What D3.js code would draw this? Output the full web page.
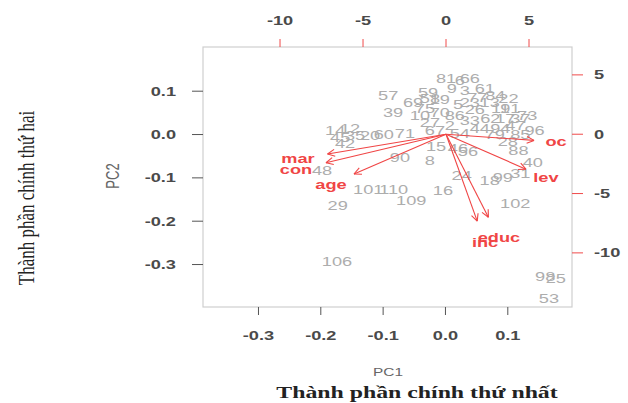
<!DOCTYPE html>
<html>
<head>
<meta charset="utf-8">
<script src="https://cdn.jsdelivr.net/npm/d3@7"></script>
<style>
  html, body { margin: 0; padding: 0; background: #fff; }
  svg { display: block; }
</style>
</head>
<body>
<svg id="chart" width="628" height="403"></svg>
<script>
// ---- data ----
const bottomTicks = [-0.3, -0.2, -0.1, 0.0, 0.1];
const leftTicks = [0.1, 0.0, -0.1, -0.2, -0.3];
const topTicks = [-10, -5, 0, 5];
const rightTicks = [5, 0, -5, -10];

// observation scores (PC1, PC2)
const obsLabels = ["57","39","59","69","81","66","10","70","5","77","84","91","62","33","2","27","94","47","3","61","9","19","26","11","37","44","54","67","75","86","13","17","6","58","22","23","79","85","96","73","71","60","14","12","45","35","42","20","90","8","48","15","46","56","28","88","40","24","16","18","99","31","102","101","110","109","29","106","98","25","53"];
const obsPC1 = [-0.092,-0.084,-0.028,-0.052,0.001,0.039,-0.041,-0.009,0.020,0.051,0.080,0.104,0.072,0.039,0.007,-0.025,0.088,0.112,0.031,0.063,0.010,-0.009,0.047,0.088,0.120,0.055,0.023,-0.017,-0.033,0.015,0.071,0.096,0.023,-0.025,0.101,0.039,0.079,0.120,0.143,0.131,-0.065,-0.099,-0.177,-0.153,-0.169,-0.145,-0.161,-0.121,-0.073,-0.025,-0.198,-0.015,0.020,0.036,0.100,0.117,0.140,0.026,-0.004,0.071,0.092,0.120,0.112,-0.124,-0.083,-0.055,-0.173,-0.174,0.160,0.177,0.166];
const obsPC2 = [0.091,0.052,0.098,0.073,0.130,0.130,0.045,0.052,0.070,0.085,0.090,0.061,0.038,0.033,0.022,0.029,0.015,0.022,0.102,0.107,0.107,0.080,0.057,0.061,0.038,0.015,0.003,0.010,0.061,0.045,0.075,0.038,0.125,0.084,0.084,0.075,0.000,0.000,0.010,0.045,0.003,0.001,0.010,0.013,-0.006,-0.003,-0.020,-0.001,-0.052,-0.059,-0.082,-0.027,-0.031,-0.040,-0.017,-0.036,-0.064,-0.094,-0.128,-0.107,-0.100,-0.089,-0.158,-0.126,-0.126,-0.151,-0.163,-0.294,-0.327,-0.331,-0.378];

// variable loadings (secondary axes), label positions
const varNames = ["mar","con","age","oc","lev","educ","inc"];
const varPC1 = [-8.92,-9.04,-6.93,6.63,6.02,3.19,2.35];
const varPC2 = [-2.08,-3.00,-4.19,-0.65,-3.68,-8.74,-9.16];

// ---- layout ----
const svg = d3.select("#chart");
const L = 203, R = 572, T = 47, B = 307;
const SX = 1.4; // horizontal stretch of the reference image

const x = d3.scaleLinear().domain([-0.389, 0.203]).range([L, R]);
const y = d3.scaleLinear().domain([-0.398, 0.202]).range([B, T]);
const x2 = d3.scaleLinear().domain([-14.64, 7.59]).range([L, R]);
const y2 = d3.scaleLinear().domain([-14.56, 7.35]).range([B, T]);

function txt(g, px, py, s, o) {
  o = o || {};
  return g.append("text")
    .attr("transform", `translate(${px},${py}) scale(${SX},1)` + (o.rot ? ` rotate(${o.rot})` : ""))
    .attr("text-anchor", o.anchor || "middle")
    .attr("dy", "0.35em")
    .attr("font-family", o.family || "'Liberation Sans', Arial, sans-serif")
    .attr("font-size", o.size || 13)
    .attr("font-weight", o.weight || "normal")
    .attr("fill", o.fill || "#444")
    .text(s);
}

// box
svg.append("rect").attr("x", L).attr("y", T).attr("width", R - L).attr("height", B - T)
  .attr("fill", "none").attr("stroke", "#cfcfcf").attr("stroke-width", 1.2);

// bottom axis
const gb = svg.append("g");
const fmt = v => d3.format(".1f")(v).replace("−", "-");
bottomTicks.forEach(v => {
  gb.append("line").attr("x1", x(v)).attr("x2", x(v)).attr("y1", B).attr("y2", B + 8)
    .attr("stroke", "#555").attr("stroke-width", 1);
  txt(gb, x(v), 335, fmt(v), {size: 13, fill: "#4a4a4a", weight: "bold"});
});
// left axis
leftTicks.forEach(v => {
  gb.append("line").attr("x1", L).attr("x2", L - 11).attr("y1", y(v)).attr("y2", y(v))
    .attr("stroke", "#555").attr("stroke-width", 1);
  txt(gb, 176, y(v), fmt(v), {size: 13, fill: "#4a4a4a", weight: "bold", anchor: "end"});
});
// top axis (red ticks)
topTicks.forEach(v => {
  gb.append("line").attr("x1", x2(v)).attr("x2", x2(v)).attr("y1", T).attr("y2", T - 8)
    .attr("stroke", "#f04a4a").attr("stroke-width", 1);
  txt(gb, x2(v), 20, String(v), {size: 13, fill: "#4a4a4a", weight: "bold"});
});
// right axis (red ticks)
rightTicks.forEach(v => {
  gb.append("line").attr("x1", R).attr("x2", R + 11).attr("y1", y2(v)).attr("y2", y2(v))
    .attr("stroke", "#f04a4a").attr("stroke-width", 1);
  txt(gb, 594, y2(v), String(v), {size: 13, fill: "#4a4a4a", weight: "bold", anchor: "start"});
});

// axis names
txt(svg, 388, 372, "PC1", {size: 11, fill: "#666"});
txt(svg, 113, 176, "PC2", {size: 13, fill: "#666", rot: -90});
txt(svg, 417, 392, "Thành phần chính thứ nhất", {size: 17, fill: "#222", weight: "bold", family: "'Liberation Serif', 'Times New Roman', serif"});
txt(svg, 26, 198, "Thành phần chính thứ hai", {size: 17, fill: "#222", family: "'Liberation Serif', 'Times New Roman', serif", rot: -90});

// observations
const go = svg.append("g");
obsLabels.forEach((lab, i) => {
  txt(go, x(obsPC1[i]), y(obsPC2[i]), lab, {size: 13, fill: "#adadad"});
});

// arrows
const ga = svg.append("g");
const red = "#f04545";
varNames.forEach((nm, i) => {
  const x0 = x2(0), y0 = y2(0);
  const xe = x2(varPC1[i] * 0.8), ye = y2(varPC2[i] * 0.8);
  ga.append("line").attr("x1", x0).attr("y1", y0).attr("x2", xe).attr("y2", ye)
    .attr("stroke", red).attr("stroke-width", 1.1);
  const ang = Math.atan2(ye - y0, xe - x0);
  const hl = 8, ha = Math.PI / 7;
  [ang + Math.PI - ha, ang + Math.PI + ha].forEach(a => {
    ga.append("line").attr("x1", xe).attr("y1", ye)
      .attr("x2", xe + hl * Math.cos(a)).attr("y2", ye + hl * Math.sin(a))
      .attr("stroke", red).attr("stroke-width", 1.1);
  });
});
varNames.forEach((nm, i) => {
  txt(ga, x2(varPC1[i]), y2(varPC2[i]), nm, {size: 13, fill: red, weight: "bold"});
});
</script>
</body>
</html>
